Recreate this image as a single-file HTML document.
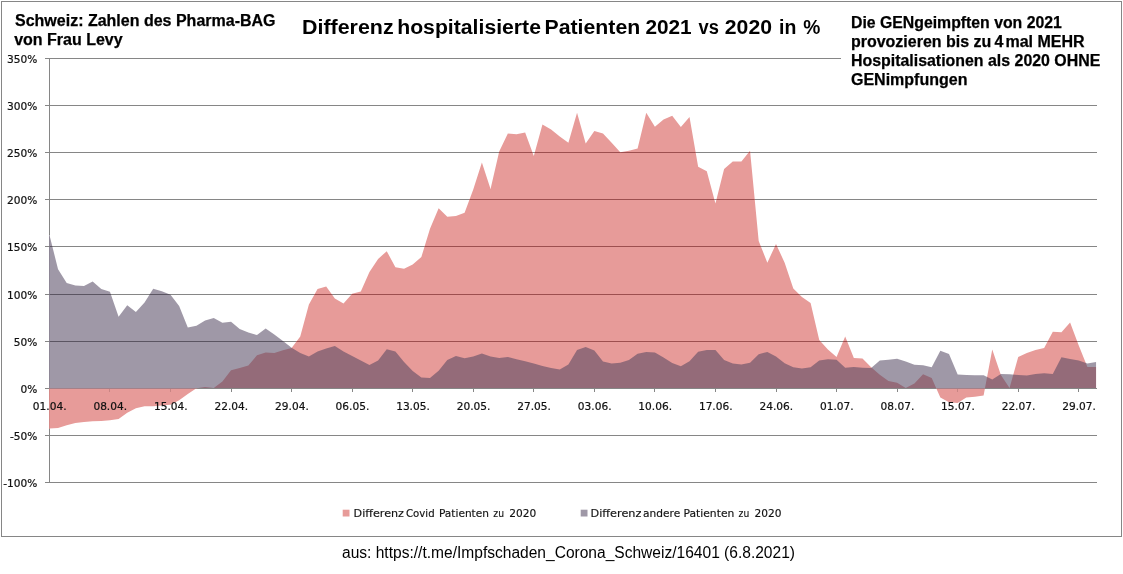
<!DOCTYPE html>
<html lang="de">
<head>
<meta charset="utf-8">
<title>Differenz hospitalisierte Patienten 2021 vs 2020 in %</title>
<style>
html,body{margin:0;padding:0;background:#fff;}
body{width:1123px;height:574px;overflow:hidden;position:relative;}
svg{position:absolute;left:0;top:0;display:block;}
text{font-family:"Liberation Sans",sans-serif;fill:#000;white-space:pre;}
.ax{font-family:"DejaVu Sans","Liberation Sans",sans-serif;font-size:10.2px;fill:#111;stroke:#111;stroke-width:0.2px;}
.lg{font-family:"DejaVu Sans","Liberation Sans",sans-serif;font-size:10.6px;fill:#111;stroke:#111;stroke-width:0.15px;}
.ttl{font-family:"Liberation Sans",sans-serif;font-weight:bold;font-size:20px;}
.note{font-family:"Liberation Sans",sans-serif;font-weight:bold;font-size:16px;stroke:#000;stroke-width:0.25px;}
.cap{font-family:"Liberation Sans",sans-serif;font-size:16px;}
</style>
</head>
<body>
<svg width="1123" height="574" viewBox="0 0 1123 574">
<rect x="0" y="0" width="1123" height="574" fill="#fff"/>
<rect x="1.5" y="1.5" width="1120" height="535" fill="#fff" stroke="#868686" stroke-width="1"/>

<defs>
<clipPath id="redClip"><polygon points="49,388.0 49,428.4 49.4,428.4 58.05,427.9 66.7,425.2 75.35,422.9 84.0,422 92.65,421.3 101.3,420.9 109.95,420.2 118.6,419 127.25,412.7 135.9,408.3 144.55,406.2 153.2,406.2 161.85,405.6 170.5,404.7 179.15,400.3 187.8,394 196.45,388.3 205.1,387 213.75,388 222.4,381.5 231.05,370.2 239.7,368 248.35,365.5 257.0,355.2 265.65,352.5 274.3,352.9 282.95,350.2 291.6,348.1 300.25,336.5 308.9,304.5 317.55,289.1 326.2,286.6 334.85,298.6 343.5,303.4 352.15,293.8 360.8,291.4 369.45,271.9 378.1,258.9 386.75,251.2 395.4,267.2 404.05,268.8 412.7,264.5 421.35,257 430.0,228.8 438.65,208.3 447.3,216.7 455.95,215.9 464.6,212.7 473.25,189.6 481.9,162.4 490.55,189.1 499.2,151.6 507.85,133.5 516.5,134.2 525.15,132.6 533.8,156.1 542.45,124.6 551.1,129.4 559.75,136.5 568.4,142.7 577.05,112.8 585.7,143.6 594.35,131 603.0,133.5 611.65,142.7 620.3,152.2 628.95,150.8 637.6,148.6 646.25,112.8 654.9,126.7 663.55,119.6 672.2,115.7 680.85,127.1 689.5,116.9 698.15,166.8 706.8,171.2 715.45,203.5 724.1,169 732.75,161.6 741.4,161.6 750.05,150.7 758.7,241 767.35,262.7 776.0,244 784.65,262.7 793.3,288.6 801.95,296.9 810.6,302.9 819.25,340 827.9,349.5 836.55,357 845.2,336.5 853.85,357.9 862.5,358.4 871.15,367.3 879.8,374.8 888.45,381 897.1,382.8 905.75,388 914.4,383.6 923.05,374.3 931.7,378 940.35,397.4 949.0,402.3 957.65,403 966.3,397.4 974.95,396.7 983.6,395.5 992.25,349.4 1000.9,375 1009.55,388 1018.2,357 1026.85,353.1 1035.5,350 1044.15,348 1052.8,331.7 1061.45,332.3 1070.1,322.5 1078.75,345.6 1087.4,367 1096.05,367 1096.05,388.0"/></clipPath>
<clipPath id="greyClip"><polygon points="49,388.0 49,234.8 49.4,234.8 58.05,269.2 66.7,282.9 75.35,285.6 84.0,285.9 92.65,281.6 101.3,289.1 109.95,291.8 118.6,316.8 127.25,305.2 135.9,312 144.55,302.5 153.2,288.8 161.85,291.3 170.5,294.8 179.15,306 187.8,327.5 196.45,325.7 205.1,320.4 213.75,317.9 222.4,322.7 231.05,321.7 239.7,329 248.35,332.4 257.0,335.1 265.65,328.5 274.3,334.5 282.95,341 291.6,347.7 300.25,353 308.9,356.6 317.55,351.6 326.2,348.4 334.85,345.9 343.5,351.6 352.15,356.1 360.8,360.5 369.45,365 378.1,360.5 386.75,349.3 395.4,351.6 404.05,362 412.7,371 421.35,377.5 430.0,377.9 438.65,370.8 447.3,360.1 455.95,356 464.6,358.3 473.25,356.5 481.9,353.5 490.55,356.5 499.2,357.9 507.85,356.9 516.5,359.2 525.15,361.3 533.8,363.6 542.45,366 551.1,368.1 559.75,369.5 568.4,364.5 577.05,350 585.7,347.1 594.35,350.6 603.0,361.5 611.65,363.6 620.3,362.7 628.95,360 637.6,353.8 646.25,352 654.9,352.4 663.55,357.4 672.2,363.1 680.85,366.3 689.5,361.3 698.15,351.7 706.8,349.9 715.45,349.9 724.1,360 732.75,363.6 741.4,364.5 750.05,362.7 758.7,354.2 767.35,352 776.0,356.5 784.65,363.2 793.3,367.3 801.95,368.6 810.6,367.3 819.25,360.6 827.9,359.3 836.55,359.7 845.2,367.7 853.85,367 862.5,367.7 871.15,368 879.8,360.6 888.45,359.7 897.1,358.8 905.75,361.5 914.4,364.8 923.05,365.3 931.7,367.3 940.35,350.7 949.0,354 957.65,374.4 966.3,375 974.95,375.2 983.6,375.2 992.25,379.6 1000.9,374 1009.55,374.2 1018.2,375 1026.85,375.4 1035.5,374.1 1044.15,373.2 1052.8,374.1 1061.45,357.2 1070.1,359 1078.75,360.4 1087.4,363.4 1096.05,362 1096.05,388.0"/></clipPath>
</defs>
<g stroke="#868686" stroke-width="1" shape-rendering="crispEdges">
<line x1="49" y1="58.5" x2="1097" y2="58.5"/>
<line x1="49" y1="105.5" x2="1097" y2="105.5"/>
<line x1="49" y1="152.5" x2="1097" y2="152.5"/>
<line x1="49" y1="199.5" x2="1097" y2="199.5"/>
<line x1="49" y1="246.5" x2="1097" y2="246.5"/>
<line x1="49" y1="294.5" x2="1097" y2="294.5"/>
<line x1="49" y1="341.5" x2="1097" y2="341.5"/>
<line x1="49" y1="435.5" x2="1097" y2="435.5"/>
<line x1="49" y1="482.5" x2="1097" y2="482.5"/>
<line x1="49.5" y1="58" x2="49.5" y2="235"/>
<line x1="49.5" y1="235" x2="49.5" y2="388" stroke="#dadada"/>
<line x1="49.5" y1="388" x2="49.5" y2="483"/>
<line x1="45" y1="388.5" x2="1097" y2="388.5"/>
<line x1="45" y1="58.5" x2="49" y2="58.5"/>
<line x1="45" y1="105.5" x2="49" y2="105.5"/>
<line x1="45" y1="152.5" x2="49" y2="152.5"/>
<line x1="45" y1="199.5" x2="49" y2="199.5"/>
<line x1="45" y1="246.5" x2="49" y2="246.5"/>
<line x1="45" y1="294.5" x2="49" y2="294.5"/>
<line x1="45" y1="341.5" x2="49" y2="341.5"/>
<line x1="45" y1="388.5" x2="49" y2="388.5"/>
<line x1="45" y1="435.5" x2="49" y2="435.5"/>
<line x1="45" y1="482.5" x2="49" y2="482.5"/>
<line x1="49.5" y1="388" x2="49.5" y2="392"/>
<line x1="109.5" y1="388" x2="109.5" y2="392"/>
<line x1="170.5" y1="388" x2="170.5" y2="392"/>
<line x1="231.5" y1="388" x2="231.5" y2="392"/>
<line x1="291.5" y1="388" x2="291.5" y2="392"/>
<line x1="352.5" y1="388" x2="352.5" y2="392"/>
<line x1="412.5" y1="388" x2="412.5" y2="392"/>
<line x1="473.5" y1="388" x2="473.5" y2="392"/>
<line x1="533.5" y1="388" x2="533.5" y2="392"/>
<line x1="594.5" y1="388" x2="594.5" y2="392"/>
<line x1="654.5" y1="388" x2="654.5" y2="392"/>
<line x1="715.5" y1="388" x2="715.5" y2="392"/>
<line x1="776.5" y1="388" x2="776.5" y2="392"/>
<line x1="836.5" y1="388" x2="836.5" y2="392"/>
<line x1="897.5" y1="388" x2="897.5" y2="392"/>
<line x1="957.5" y1="388" x2="957.5" y2="392"/>
<line x1="1018.5" y1="388" x2="1018.5" y2="392"/>
<line x1="1078.5" y1="388" x2="1078.5" y2="392"/>
</g>
<polygon points="49,388.0 49,428.4 49.4,428.4 58.05,427.9 66.7,425.2 75.35,422.9 84.0,422 92.65,421.3 101.3,420.9 109.95,420.2 118.6,419 127.25,412.7 135.9,408.3 144.55,406.2 153.2,406.2 161.85,405.6 170.5,404.7 179.15,400.3 187.8,394 196.45,388.3 205.1,387 213.75,388 222.4,381.5 231.05,370.2 239.7,368 248.35,365.5 257.0,355.2 265.65,352.5 274.3,352.9 282.95,350.2 291.6,348.1 300.25,336.5 308.9,304.5 317.55,289.1 326.2,286.6 334.85,298.6 343.5,303.4 352.15,293.8 360.8,291.4 369.45,271.9 378.1,258.9 386.75,251.2 395.4,267.2 404.05,268.8 412.7,264.5 421.35,257 430.0,228.8 438.65,208.3 447.3,216.7 455.95,215.9 464.6,212.7 473.25,189.6 481.9,162.4 490.55,189.1 499.2,151.6 507.85,133.5 516.5,134.2 525.15,132.6 533.8,156.1 542.45,124.6 551.1,129.4 559.75,136.5 568.4,142.7 577.05,112.8 585.7,143.6 594.35,131 603.0,133.5 611.65,142.7 620.3,152.2 628.95,150.8 637.6,148.6 646.25,112.8 654.9,126.7 663.55,119.6 672.2,115.7 680.85,127.1 689.5,116.9 698.15,166.8 706.8,171.2 715.45,203.5 724.1,169 732.75,161.6 741.4,161.6 750.05,150.7 758.7,241 767.35,262.7 776.0,244 784.65,262.7 793.3,288.6 801.95,296.9 810.6,302.9 819.25,340 827.9,349.5 836.55,357 845.2,336.5 853.85,357.9 862.5,358.4 871.15,367.3 879.8,374.8 888.45,381 897.1,382.8 905.75,388 914.4,383.6 923.05,374.3 931.7,378 940.35,397.4 949.0,402.3 957.65,403 966.3,397.4 974.95,396.7 983.6,395.5 992.25,349.4 1000.9,375 1009.55,388 1018.2,357 1026.85,353.1 1035.5,350 1044.15,348 1052.8,331.7 1061.45,332.3 1070.1,322.5 1078.75,345.6 1087.4,367 1096.05,367 1096.05,388.0" fill="#e79b99"/>
<g clip-path="url(#redClip)" stroke-width="1" shape-rendering="crispEdges">
<g stroke="#9d4f4f"><line x1="49" y1="58.5" x2="1097" y2="58.5"/>
<line x1="49" y1="105.5" x2="1097" y2="105.5"/>
<line x1="49" y1="152.5" x2="1097" y2="152.5"/>
<line x1="49" y1="199.5" x2="1097" y2="199.5"/>
<line x1="49" y1="246.5" x2="1097" y2="246.5"/>
<line x1="49" y1="294.5" x2="1097" y2="294.5"/>
<line x1="49" y1="341.5" x2="1097" y2="341.5"/>
<line x1="49" y1="435.5" x2="1097" y2="435.5"/>
<line x1="49" y1="482.5" x2="1097" y2="482.5"/></g>
<g stroke="#c98583"><line x1="49.5" y1="388" x2="49.5" y2="392"/>
<line x1="109.5" y1="388" x2="109.5" y2="392"/>
<line x1="170.5" y1="388" x2="170.5" y2="392"/>
<line x1="231.5" y1="388" x2="231.5" y2="392"/>
<line x1="291.5" y1="388" x2="291.5" y2="392"/>
<line x1="352.5" y1="388" x2="352.5" y2="392"/>
<line x1="412.5" y1="388" x2="412.5" y2="392"/>
<line x1="473.5" y1="388" x2="473.5" y2="392"/>
<line x1="533.5" y1="388" x2="533.5" y2="392"/>
<line x1="594.5" y1="388" x2="594.5" y2="392"/>
<line x1="654.5" y1="388" x2="654.5" y2="392"/>
<line x1="715.5" y1="388" x2="715.5" y2="392"/>
<line x1="776.5" y1="388" x2="776.5" y2="392"/>
<line x1="836.5" y1="388" x2="836.5" y2="392"/>
<line x1="897.5" y1="388" x2="897.5" y2="392"/>
<line x1="957.5" y1="388" x2="957.5" y2="392"/>
<line x1="1018.5" y1="388" x2="1018.5" y2="392"/>
<line x1="1078.5" y1="388" x2="1078.5" y2="392"/><line x1="49.5" y1="388" x2="49.5" y2="483" stroke="#d58a88"/><line x1="49" y1="388.5" x2="1097" y2="388.5" stroke="#a58088"/></g>
</g>
<polygon points="49,388.0 49,234.8 49.4,234.8 58.05,269.2 66.7,282.9 75.35,285.6 84.0,285.9 92.65,281.6 101.3,289.1 109.95,291.8 118.6,316.8 127.25,305.2 135.9,312 144.55,302.5 153.2,288.8 161.85,291.3 170.5,294.8 179.15,306 187.8,327.5 196.45,325.7 205.1,320.4 213.75,317.9 222.4,322.7 231.05,321.7 239.7,329 248.35,332.4 257.0,335.1 265.65,328.5 274.3,334.5 282.95,341 291.6,347.7 300.25,353 308.9,356.6 317.55,351.6 326.2,348.4 334.85,345.9 343.5,351.6 352.15,356.1 360.8,360.5 369.45,365 378.1,360.5 386.75,349.3 395.4,351.6 404.05,362 412.7,371 421.35,377.5 430.0,377.9 438.65,370.8 447.3,360.1 455.95,356 464.6,358.3 473.25,356.5 481.9,353.5 490.55,356.5 499.2,357.9 507.85,356.9 516.5,359.2 525.15,361.3 533.8,363.6 542.45,366 551.1,368.1 559.75,369.5 568.4,364.5 577.05,350 585.7,347.1 594.35,350.6 603.0,361.5 611.65,363.6 620.3,362.7 628.95,360 637.6,353.8 646.25,352 654.9,352.4 663.55,357.4 672.2,363.1 680.85,366.3 689.5,361.3 698.15,351.7 706.8,349.9 715.45,349.9 724.1,360 732.75,363.6 741.4,364.5 750.05,362.7 758.7,354.2 767.35,352 776.0,356.5 784.65,363.2 793.3,367.3 801.95,368.6 810.6,367.3 819.25,360.6 827.9,359.3 836.55,359.7 845.2,367.7 853.85,367 862.5,367.7 871.15,368 879.8,360.6 888.45,359.7 897.1,358.8 905.75,361.5 914.4,364.8 923.05,365.3 931.7,367.3 940.35,350.7 949.0,354 957.65,374.4 966.3,375 974.95,375.2 983.6,375.2 992.25,379.6 1000.9,374 1009.55,374.2 1018.2,375 1026.85,375.4 1035.5,374.1 1044.15,373.2 1052.8,374.1 1061.45,357.2 1070.1,359 1078.75,360.4 1087.4,363.4 1096.05,362 1096.05,388.0" fill="#50445f" fill-opacity="0.55"/>
<g clip-path="url(#greyClip)" stroke="#000" stroke-opacity="0.12" stroke-width="1" shape-rendering="crispEdges"><line x1="49" y1="58.5" x2="1097" y2="58.5"/>
<line x1="49" y1="105.5" x2="1097" y2="105.5"/>
<line x1="49" y1="152.5" x2="1097" y2="152.5"/>
<line x1="49" y1="199.5" x2="1097" y2="199.5"/>
<line x1="49" y1="246.5" x2="1097" y2="246.5"/>
<line x1="49" y1="294.5" x2="1097" y2="294.5"/>
<line x1="49" y1="341.5" x2="1097" y2="341.5"/>
<line x1="49" y1="435.5" x2="1097" y2="435.5"/>
<line x1="49" y1="482.5" x2="1097" y2="482.5"/></g>
<text class="ax" x="7.01" y="62.6" textLength="30.29" lengthAdjust="spacingAndGlyphs">350%</text>
<text class="ax" x="7.01" y="109.6" textLength="30.29" lengthAdjust="spacingAndGlyphs">300%</text>
<text class="ax" x="7.01" y="156.6" textLength="30.29" lengthAdjust="spacingAndGlyphs">250%</text>
<text class="ax" x="7.01" y="203.6" textLength="30.29" lengthAdjust="spacingAndGlyphs">200%</text>
<text class="ax" x="7.01" y="250.6" textLength="30.29" lengthAdjust="spacingAndGlyphs">150%</text>
<text class="ax" x="7.01" y="298.6" textLength="30.29" lengthAdjust="spacingAndGlyphs">100%</text>
<text class="ax" x="13.75" y="345.6" textLength="23.55" lengthAdjust="spacingAndGlyphs">50%</text>
<text class="ax" x="20.49" y="392.6" textLength="16.81" lengthAdjust="spacingAndGlyphs">0%</text>
<text class="ax" x="9.93" y="439.6" textLength="27.37" lengthAdjust="spacingAndGlyphs">-50%</text>
<text class="ax" x="3.19" y="486.6" textLength="34.11" lengthAdjust="spacingAndGlyphs">-100%</text>
<text class="ax" x="32.85" y="410.2" textLength="33.70" lengthAdjust="spacingAndGlyphs">01.04.</text>
<text class="ax" x="93.40" y="410.2" textLength="33.70" lengthAdjust="spacingAndGlyphs">08.04.</text>
<text class="ax" x="153.95" y="410.2" textLength="33.70" lengthAdjust="spacingAndGlyphs">15.04.</text>
<text class="ax" x="214.50" y="410.2" textLength="33.70" lengthAdjust="spacingAndGlyphs">22.04.</text>
<text class="ax" x="275.05" y="410.2" textLength="33.70" lengthAdjust="spacingAndGlyphs">29.04.</text>
<text class="ax" x="335.60" y="410.2" textLength="33.70" lengthAdjust="spacingAndGlyphs">06.05.</text>
<text class="ax" x="396.15" y="410.2" textLength="33.70" lengthAdjust="spacingAndGlyphs">13.05.</text>
<text class="ax" x="456.70" y="410.2" textLength="33.70" lengthAdjust="spacingAndGlyphs">20.05.</text>
<text class="ax" x="517.25" y="410.2" textLength="33.70" lengthAdjust="spacingAndGlyphs">27.05.</text>
<text class="ax" x="577.80" y="410.2" textLength="33.70" lengthAdjust="spacingAndGlyphs">03.06.</text>
<text class="ax" x="638.35" y="410.2" textLength="33.70" lengthAdjust="spacingAndGlyphs">10.06.</text>
<text class="ax" x="698.90" y="410.2" textLength="33.70" lengthAdjust="spacingAndGlyphs">17.06.</text>
<text class="ax" x="759.45" y="410.2" textLength="33.70" lengthAdjust="spacingAndGlyphs">24.06.</text>
<text class="ax" x="820.00" y="410.2" textLength="33.70" lengthAdjust="spacingAndGlyphs">01.07.</text>
<text class="ax" x="880.55" y="410.2" textLength="33.70" lengthAdjust="spacingAndGlyphs">08.07.</text>
<text class="ax" x="941.10" y="410.2" textLength="33.70" lengthAdjust="spacingAndGlyphs">15.07.</text>
<text class="ax" x="1001.65" y="410.2" textLength="33.70" lengthAdjust="spacingAndGlyphs">22.07.</text>
<text class="ax" x="1062.20" y="410.2" textLength="33.70" lengthAdjust="spacingAndGlyphs">29.07.</text>
<rect x="10" y="8" width="270" height="42" fill="#fff"/>
<rect x="841" y="10" width="265" height="85" fill="#fff"/>
<text class="note" x="15" y="26.0">Schweiz: Zahlen des Pharma-BAG</text>
<text class="note" x="14.2" y="44.5">von Frau Levy</text>
<text class="ttl" y="33.5"><tspan x="302.0" textLength="91.6" lengthAdjust="spacingAndGlyphs">Differenz</tspan> <tspan x="397.2" textLength="143.8" lengthAdjust="spacingAndGlyphs">hospitalisierte</tspan> <tspan x="544.5" textLength="95.7" lengthAdjust="spacingAndGlyphs">Patienten</tspan> <tspan x="645.4" textLength="46.3" lengthAdjust="spacingAndGlyphs">2021</tspan> <tspan x="698.6" textLength="20.4" lengthAdjust="spacingAndGlyphs">vs</tspan> <tspan x="724.8" textLength="47.2" lengthAdjust="spacingAndGlyphs">2020</tspan> <tspan x="779.0" textLength="17.3" lengthAdjust="spacingAndGlyphs">in</tspan> <tspan x="803.2" textLength="17.1" lengthAdjust="spacingAndGlyphs">%</tspan></text>
<text class="note" x="851" y="27.9" textLength="210.8" lengthAdjust="spacingAndGlyphs">Die GENgeimpften von 2021</text>
<text class="note" y="46.8"><tspan x="851" textLength="140.2" lengthAdjust="spacingAndGlyphs">provozieren bis zu</tspan> <tspan x="994.4">4</tspan> <tspan x="1005.4" textLength="79.2" lengthAdjust="spacingAndGlyphs">mal MEHR</tspan></text>
<text class="note" x="851" y="65.7" textLength="249.3" lengthAdjust="spacingAndGlyphs">Hospitalisationen als 2020 OHNE</text>
<text class="note" x="851" y="84.5">GENimpfungen</text>
<rect x="342.7" y="509.7" width="6.8" height="6.8" fill="#e79b99"/>
<text class="lg" y="516.7"><tspan x="353.6" textLength="50.4" lengthAdjust="spacingAndGlyphs">Differenz</tspan> <tspan x="406.0" textLength="28.6" lengthAdjust="spacingAndGlyphs">Covid</tspan> <tspan x="438.9" textLength="50.1" lengthAdjust="spacingAndGlyphs">Patienten</tspan> <tspan x="493.3" textLength="10.7" lengthAdjust="spacingAndGlyphs">zu</tspan> <tspan x="509.2" textLength="27.0" lengthAdjust="spacingAndGlyphs">2020</tspan></text>
<rect x="580.7" y="509.7" width="6.8" height="6.8" fill="#9f98a7"/>
<text class="lg" y="516.7"><tspan x="590.5" textLength="50.9" lengthAdjust="spacingAndGlyphs">Differenz</tspan> <tspan x="643.1" textLength="37.1" lengthAdjust="spacingAndGlyphs">andere</tspan> <tspan x="683.5" textLength="50.8" lengthAdjust="spacingAndGlyphs">Patienten</tspan> <tspan x="738.6" textLength="10.6" lengthAdjust="spacingAndGlyphs">zu</tspan> <tspan x="754.4" textLength="27.0" lengthAdjust="spacingAndGlyphs">2020</tspan></text>
<text class="cap" x="342" y="557.8" textLength="453" lengthAdjust="spacingAndGlyphs">aus: https://t.me/Impfschaden_Corona_Schweiz/16401 (6.8.2021)</text>
</svg>
</body>
</html>
